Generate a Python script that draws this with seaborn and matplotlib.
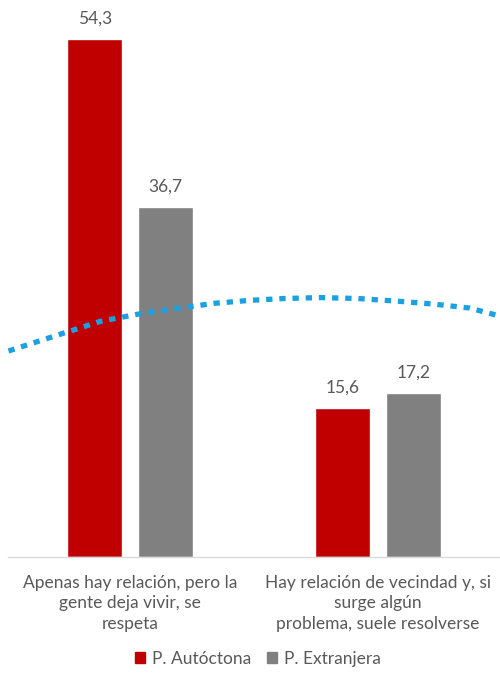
import numpy as np
import pandas as pd
import matplotlib
matplotlib.use("Agg")
import matplotlib.pyplot as plt
import seaborn as sns

# ── Data ───────────────────────────────────────────────────
categories = [
    "Apenas hay relación, pero la\ngente deja vivir, se\nrespeta",
    "Hay relación de vecindad y, si\nsurge algún\nproblema, suele resolverse",
]
series = ["P. Autóctona", "P. Extranjera"]
autoctona = [54.3, 15.6]
extranjera = [36.7, 17.2]

# dotted trend curve (category-index position, value)
trend_x = [-0.49, -0.30, -0.12, 0.04, 0.20, 0.34, 0.48, 0.62, 0.77, 0.92, 1.09, 1.23, 1.37, 1.50]
trend_y = [21.6, 23.2, 24.7, 25.5, 26.1, 26.6, 26.9, 27.1, 27.2, 27.1, 26.8, 26.5, 26.1, 25.2]

COLORS = ["#C00000", "#808080"]
TEXT = "#595959"

df = pd.DataFrame({
    "cat": categories * 2,
    "serie": [series[0]] * 2 + [series[1]] * 2,
    "valor": autoctona + extranjera,
})

sns.set_style("white")
plt.rcParams["font.family"] = ["Lato", "DejaVu Sans"]

fig = plt.figure(figsize=(5.0, 6.83), dpi=100)
ax = fig.add_axes([0.012, 0.1845, 0.992, 0.8155])

sns.barplot(data=df, x="cat", y="valor", hue="serie", palette=COLORS,
            width=0.568, gap=0.218, saturation=1, ax=ax, legend=False)

for cont in ax.containers:
    ax.bar_label(cont, labels=[f"{v:.1f}".replace(".", ",") for v in cont.datavalues],
                 padding=9, fontsize=12.5, color=TEXT)

ax.plot(trend_x, trend_y, color="#1BA1E2", lw=3.8, ls=(0, (1.2, 1.3)),
        dash_capstyle="butt")

ax.set_xlim(-0.5, 1.5)
ax.set_ylim(0, 58.4)
ax.set_xlabel("")
ax.set_ylabel("")
ax.set_yticks([])
ax.tick_params(axis="x", length=0, pad=13, labelsize=12.5, labelcolor=TEXT)
for s in ["top", "right", "left"]:
    ax.spines[s].set_visible(False)
ax.spines["bottom"].set_color("#D9D9D9")
ax.spines["bottom"].set_linewidth(1)
ax.spines["bottom"].set_bounds(-0.49, 1.5)
for lbl in ax.get_xticklabels():
    lbl.set_linespacing(1.33)

handles = [plt.Rectangle((0, 0), 1, 1, color=c) for c in COLORS]
fig.legend(handles, series, loc="center", bbox_to_anchor=(0.516, 1 - 659 / 683),
           ncol=2, frameon=False, fontsize=12.5, labelcolor=TEXT,
           handlelength=0.6, handleheight=0.6, handletextpad=0.4, columnspacing=0.9)

fig.savefig("out.png", dpi=100)
